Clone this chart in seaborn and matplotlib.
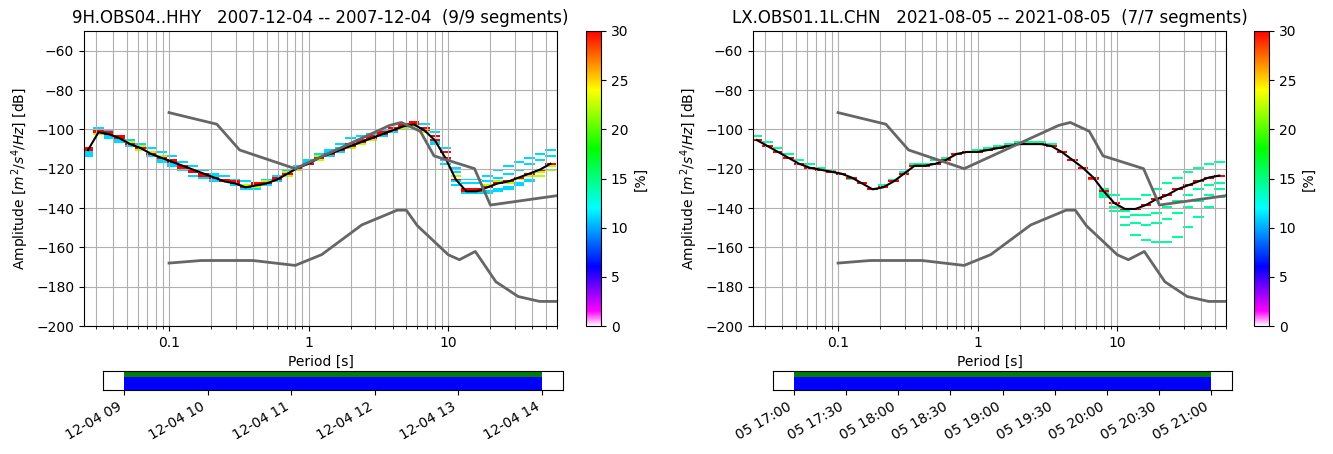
import numpy as np
import pandas as pd
import matplotlib
matplotlib.use("Agg")
import matplotlib.pyplot as plt
import matplotlib.dates as mdates
from matplotlib.colors import LinearSegmentedColormap
from matplotlib.ticker import FormatStrFormatter
import seaborn as sns

# period bins: 1/4 octave, centres 2**(k/4) for k = -21 .. 23
PERIOD_K = np.arange(-21, 24)

# ---- left station: 9 one-hour segments ----
LEFT_TITLE = "9H.OBS04..HHY   2007-12-04 -- 2007-12-04  (9/9 segments)"
LEFT_MODE = [-110, -102, -103, -105, -107.5, -109.5, -112.5, -114.5, -116, -118.5,
             -120.5, -123, -125, -125.5, -127, -129.5, -129, -127.5, -125.5, -123,
             -120, -117.5, -115, -112.5, -110.5, -109, -107, -105, -102.5, -100.5,
             -99, -98, -101, -106, -115, -126, -131, -131, -129.5, -128,
             -126.5, -125, -123, -121, -118]
LEFT_NEAR = [-111, -101, -102, -104, -106.5, -108.5, -111.5, -113.5, -117, -119.5,
             -121.5, -124, -125, -126.5, -128, -128.5, -128, -126.5, -124.5, -122,
             -120, -117.5, -114, -112.5, -110.5, -108, -106, -104, -101.5, -99.5,
             -98, -97, -100, -104, -112, -124, -132, -132, -128.5, -127,
             -127.5, -126, -124, -122, -119]
LEFT_S1 = [-113, -100, -101, -104, -106, -108, -110, -112, -114, -117,
           -119, -121, -123, -124, -126, -127, -128, -126, -124, -121,
           -119, -116, -113, -111, -108, -105, -104, -103, -101, -100,
           -98, -97, -98, -102, -110, -120, -126, -126, -124, -121,
           -119, -117, -115, -113, -111]
LEFT_S2 = [-114, -103, -105, -107, -109, -111, -114, -117, -119, -121,
           -124, -125, -127, -127, -129, -131, -131, -129, -127, -124,
           -121, -118, -116, -113, -111, -110, -108, -106, -104, -102,
           -100, -99, -102, -108, -118, -129, -133, -133, -133, -132,
           -131, -129, -127, -124, -121]
LEFT_S3 = [-112, -101, -102, -105, -108, -110, -113, -115, -117, -119,
           -121, -123, -124, -126, -128, -130, -130, -128, -125, -123,
           -120, -117, -115, -112, -110, -108, -106, -104, -102, -100,
           -99, -98, -100, -104, -112, -122, -128, -128, -127, -125,
           -123, -121, -118, -116, -114]
LEFT_S4 = [-111, -103, -104, -106, -108, -111, -113, -116, -118, -120,
           -122, -124, -126, -127, -128, -130, -130, -128, -126, -124,
           -121, -118, -116, -114, -112, -110, -108, -106, -103, -101,
           -100, -99, -102, -107, -116, -127, -132, -132, -132, -131,
           -130, -128, -126, -124, -121]
LEFT_SEGMENTS = [LEFT_MODE, LEFT_MODE, LEFT_MODE, LEFT_NEAR, LEFT_NEAR,
                 LEFT_S1, LEFT_S2, LEFT_S3, LEFT_S4]
LEFT_STARTS = ["2007-12-04 09:00", "2007-12-04 09:30", "2007-12-04 10:00",
               "2007-12-04 10:30", "2007-12-04 11:00", "2007-12-04 11:30",
               "2007-12-04 12:00", "2007-12-04 12:30", "2007-12-04 13:00"]

# ---- right station: 7 one-hour segments ----
RIGHT_TITLE = "LX.OBS01.1L.CHN   2021-08-05 -- 2021-08-05  (7/7 segments)"
RIGHT_MODE = [-106, -109, -111.5, -115, -117.5, -119.5, -121, -122, -122.5, -125,
              -127.5, -130.5, -130, -126.5, -122.5, -119, -119, -117.5, -115.5, -113,
              -112, -111.5, -110.5, -109.5, -108.5, -107.5, -107.5, -107.5, -108.5, -112,
              -116, -120, -125, -132, -137.5, -141, -141, -138.5, -136, -133.5,
              -131, -128.5, -126.5, -125, -124]
RIGHT_A = [-104, -107, -110, -113, -116, -118, -120, -121, -123, -126,
           -128, -131, -129, -126, -122, -118, -118, -116, -115, -113,
           -112, -111, -110, -109, -108, -107, -107, -107, -108, -112,
           -116, -120, -125, -131, -134, -136, -136, -134, -131, -128,
           -125, -122, -120, -118, -117]
RIGHT_B = [-106, -109, -111.5, -115, -117.5, -119.5, -121, -122, -122.5, -125,
           -127.5, -130.5, -130, -126.5, -122.5, -119, -119, -117.5, -115.5, -113,
           -112, -111.5, -110.5, -109.5, -108.5, -107.5, -107.5, -107.5, -108.5, -112,
           -116, -120, -125, -133, -138, -142, -144, -144, -143, -140,
           -137, -134, -131, -129, -128]
RIGHT_C = [-106, -109, -111.5, -115, -117.5, -119.5, -121, -122, -122.5, -125,
           -127.5, -130.5, -130, -126.5, -122.5, -119, -119, -117.5, -115.5, -113,
           -112, -111.5, -110.5, -109.5, -108.5, -107.5, -107.5, -107.5, -108.5, -112,
           -116, -120, -126, -134, -140, -145, -148, -149, -148, -146,
           -143, -140, -137, -134, -131]
RIGHT_D = [-106, -109, -111.5, -115, -117.5, -119.5, -121, -122, -122.5, -125,
           -127.5, -130.5, -130, -126.5, -122.5, -119, -119, -117.5, -115.5, -113,
           -112, -111.5, -110.5, -109.5, -108.5, -107.5, -107.5, -107.5, -108.5, -112,
           -116, -120, -126, -135, -142, -149, -154, -157, -158, -158,
           -155, -150, -145, -140, -135]
RIGHT_SEGMENTS = [RIGHT_MODE, RIGHT_MODE, RIGHT_MODE, RIGHT_A, RIGHT_B, RIGHT_C, RIGHT_D]
RIGHT_STARTS = ["2021-08-05 17:00", "2021-08-05 17:30", "2021-08-05 18:00",
                "2021-08-05 18:30", "2021-08-05 19:00", "2021-08-05 19:30",
                "2021-08-05 20:00"]

# Peterson noise models (break points)
NHNM_PERIOD = [0.10, 0.22, 0.32, 0.80, 3.80, 4.60, 6.30, 7.90, 15.40, 20.00, 354.80]
NHNM_DB = [-91.5, -97.4, -110.5, -120.0, -98.0, -96.5, -101.0, -113.5, -120.0, -138.5, -126.0]
NLNM_PERIOD = [0.10, 0.17, 0.40, 0.80, 1.24, 2.40, 4.30, 5.00, 6.00, 10.00, 12.00,
               15.60, 21.90, 31.60, 45.00, 70.00]
NLNM_DB = [-168.0, -166.7, -166.7, -169.2, -163.7, -148.6, -141.1, -141.1, -149.0,
           -163.8, -166.3, -162.1, -177.5, -185.0, -187.5, -187.5]

# obspy "pqlx" colour map
pqlx = LinearSegmentedColormap("pqlx", {
    "red": ((0.0, 1.0, 1.0), (0.05, 1.0, 1.0), (0.2, 0.0, 0.0), (0.4, 0.0, 0.0),
            (0.6, 0.0, 0.0), (0.8, 1.0, 1.0), (1.0, 1.0, 1.0)),
    "green": ((0.0, 1.0, 1.0), (0.05, 0.0, 0.0), (0.2, 0.0, 0.0), (0.4, 1.0, 1.0),
              (0.6, 1.0, 1.0), (0.8, 1.0, 1.0), (1.0, 0.0, 0.0)),
    "blue": ((0.0, 1.0, 1.0), (0.05, 1.0, 1.0), (0.2, 1.0, 1.0), (0.4, 1.0, 1.0),
             (0.6, 0.0, 0.0), (0.8, 0.0, 0.0), (1.0, 0.0, 0.0))}, 1024)

period_centers = 2.0 ** (PERIOD_K / 4.0)
period_edges = 2.0 ** ((np.append(PERIOD_K, PERIOD_K[-1] + 1) - 0.5) / 4.0)
db_edges = np.arange(-200, -49, 1.0)
db_centers = db_edges[:-1] + 0.5

W, H = 1333, 454
fig = plt.figure(figsize=(W / 100, H / 100), dpi=100)


def px(x0, x1, y0, y1):
    return [x0 / W, 1 - y1 / H, (x1 - x0) / W, (y1 - y0) / H]


def ppsd_panel(ax, cax, tax, segments, starts, title, fmt, locator):
    segs = np.array(segments, dtype=float)
    counts = np.zeros((len(period_centers), len(db_centers)))
    cols = np.arange(len(period_centers))
    for seg in segs:
        idx = np.floor(seg - db_edges[0]).astype(int)
        counts[cols, idx] += 1
    percent = counts * 100.0 / len(segs)
    mode = db_centers[counts.argmax(axis=1)]

    ax.set_xscale("log")
    mesh = ax.pcolormesh(period_edges, db_edges, np.ma.masked_equal(percent.T, 0),
                         cmap=pqlx, vmin=0, vmax=30, zorder=-1)

    df_mode = pd.DataFrame({"period": period_centers, "db": mode})
    sns.lineplot(data=df_mode, x="period", y="db", color="black", linewidth=1.5,
                 estimator=None, ax=ax, zorder=9)
    for per, db in ((NHNM_PERIOD, NHNM_DB), (NLNM_PERIOD, NLNM_DB)):
        sns.lineplot(x=per, y=db, color="0.4", linewidth=2, estimator=None,
                     ax=ax, zorder=10)

    ax.grid(True, which="major", color="#b0b0b0", linewidth=0.8)
    ax.grid(True, which="minor", color="#b0b0b0", linewidth=0.8)
    ax.set_xlim(0.0246, 60)
    ax.set_ylim(-200, -50)
    ax.set_yticks(np.arange(-200, -59, 20))
    ax.xaxis.set_major_formatter(FormatStrFormatter("%g"))
    ax.set_xlabel("Period [s]")
    ax.set_ylabel("Amplitude [$m^2/s^4/Hz$] [dB]")
    ax.set_title(title, fontsize=12)

    cb = fig.colorbar(mesh, cax=cax)
    cb.set_ticks(np.arange(0, 31, 5))
    cb.set_label("[%]")

    t0 = pd.to_datetime(starts)
    t1 = t0 + pd.Timedelta(hours=1)
    for a, b in zip(mdates.date2num(t0), mdates.date2num(t1)):
        tax.axvspan(a, b, 0.7, 1.0, facecolor="g", lw=0)
    d0, d1 = mdates.date2num(t0.min()), mdates.date2num(t1.max())
    tax.axvspan(d0, d1, 0.0, 0.7, facecolor="b", lw=0)
    pad = (d1 - d0) * 0.05
    tax.set_xlim(d0 - pad, d1 + pad)
    tax.set_yticks([])
    tax.xaxis_date()
    tax.xaxis.set_major_locator(locator)
    tax.xaxis.set_major_formatter(mdates.DateFormatter(fmt))
    for lab in tax.get_xticklabels():
        lab.set_rotation(30)
        lab.set_ha("right")


ax_l = fig.add_axes(px(84, 557, 31, 326))
cax_l = fig.add_axes(px(586, 601, 31, 326))
tax_l = fig.add_axes(px(103, 563, 371, 390))
ax_r = fig.add_axes(px(753, 1226, 31, 326))
cax_r = fig.add_axes(px(1254, 1269, 31, 326))
tax_r = fig.add_axes(px(773, 1232, 371, 390))

ppsd_panel(ax_l, cax_l, tax_l, LEFT_SEGMENTS, LEFT_STARTS, LEFT_TITLE,
           "%m-%d %H", mdates.HourLocator())
ppsd_panel(ax_r, cax_r, tax_r, RIGHT_SEGMENTS, RIGHT_STARTS, RIGHT_TITLE,
           "%d %H:%M", mdates.MinuteLocator(byminute=[0, 30]))

fig.savefig("out.png", dpi=100)
